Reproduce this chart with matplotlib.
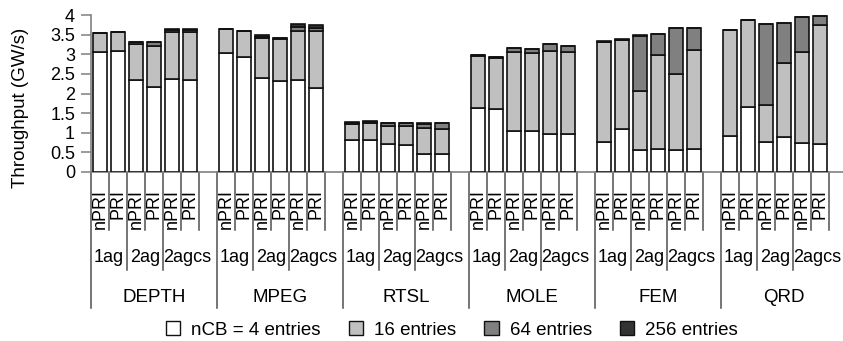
import numpy as np
import matplotlib
matplotlib.use("Agg")
import matplotlib.pyplot as plt
from matplotlib.patches import Patch

plt.rcParams['font.family'] = ['Liberation Sans', 'DejaVu Sans']

benchmarks = ["DEPTH", "MPEG", "RTSL", "MOLE", "FEM", "QRD"]
configs = ["1ag", "2ag", "2agcs"]
variants = ["nPRI", "PRI"]
series_names = ["nCB = 4 entries", "16 entries", "64 entries", "256 entries"]
series_colors = ["#ffffff", "#c0c0c0", "#808080", "#333333"]

# throughput gained at each nCB size (GW/s), six bars per benchmark:
# 1ag nPRI, 1ag PRI, 2ag nPRI, 2ag PRI, 2agcs nPRI, 2agcs PRI
cb4 = [3.07, 3.09, 2.34, 2.17, 2.36, 2.34,
       3.02, 2.93, 2.39, 2.32, 2.34, 2.15,
       0.81, 0.81, 0.71, 0.68, 0.45, 0.45,
       1.62, 1.60, 1.04, 1.04, 0.98, 0.98,
       0.76, 1.10, 0.55, 0.58, 0.55, 0.58,
       0.92, 1.65, 0.76, 0.89, 0.73, 0.71]
cb16 = [0.47, 0.48, 0.91, 1.05, 1.20, 1.22,
        0.62, 0.66, 1.03, 1.08, 1.24, 1.43,
        0.42, 0.43, 0.47, 0.49, 0.68, 0.65,
        1.34, 1.31, 2.03, 2.00, 2.11, 2.09,
        2.54, 2.26, 1.52, 2.40, 1.94, 2.54,
        2.70, 2.21, 0.94, 1.89, 2.32, 3.04]
cb64 = [0.00, 0.00, 0.05, 0.08, 0.05, 0.05,
        0.00, 0.00, 0.02, 0.01, 0.12, 0.10,
        0.02, 0.03, 0.08, 0.09, 0.09, 0.16,
        0.01, 0.01, 0.10, 0.10, 0.16, 0.15,
        0.01, 0.01, 1.39, 0.54, 1.18, 0.55,
        0.00, 0.00, 2.07, 1.02, 0.91, 0.23]
cb256 = [0.00, 0.00, 0.01, 0.02, 0.03, 0.03,
         0.01, 0.01, 0.04, 0.01, 0.07, 0.07,
         0.02, 0.02, 0.00, 0.00, 0.04, 0.00,
         0.01, 0.01, 0.00, 0.00, 0.00, 0.00,
         0.02, 0.02, 0.04, 0.00, 0.00, 0.00,
         0.00, 0.00, 0.00, 0.00, 0.00, 0.00]

W, H = 843, 341
fig = plt.figure(figsize=(W / 100, H / 100), dpi=100)
ax = fig.add_axes([91 / W, 1 - 172 / H, 756 / W, 157 / H])

# 7 slots per benchmark: 6 bars and one empty slot closing the 2agcs group
slots = 7
x = np.array([g * slots + i for g in range(len(benchmarks)) for i in range(6)])

bottom = np.zeros(len(x))
for vals, color in zip([cb4, cb16, cb64, cb256], series_colors):
    vals = np.array(vals)
    ax.bar(x, vals, width=0.74, bottom=bottom, color=color,
           edgecolor="#111111", linewidth=1.2, zorder=3)
    bottom += vals

ax.set_xlim(-0.5, len(benchmarks) * slots - 0.5)
ax.set_ylim(0, 4)
ax.set_yticks(np.arange(0, 4.01, 0.5))
ax.set_yticklabels(["0", "0.5", "1", "1.5", "2", "2.5", "3", "3.5", "4"])
ax.tick_params(axis="y", direction="out", length=7, width=1.1,
               color="#808080", labelsize=13, pad=4.5)
ax.set_xticks([])
for s in ["top", "right"]:
    ax.spines[s].set_visible(False)
ax.spines["bottom"].set_color("#808080")
ax.spines["left"].set_color("#808080")
ax.spines["bottom"].set_linewidth(1.2)
ax.spines["left"].set_linewidth(1.2)

# multi-level category axis below the plot
tr = ax.get_xaxis_transform()
px = 1 / 157.0
lvl1, lvl2, lvl3 = -58 * px, -98 * px, -136 * px
line_kw = dict(transform=tr, clip_on=False, color="#505050", linewidth=1.1)
spans = [(0, 2), (2, 4), (4, 6.7)]
for g, name in enumerate(benchmarks):
    start = g * slots - 0.5
    ax.plot([start, start], [0, lvl3], **line_kw)
    for k in (1, 3, 5, 6):
        ax.plot([start + k, start + k], [0, lvl1], **line_kw)
    for k in (2, 4):
        ax.plot([start + k, start + k], [0, lvl2], **line_kw)
    for i in range(6):
        ax.text(g * slots + i, -17 * px, variants[i % 2], transform=tr,
                rotation=90, ha="center", va="top", fontsize=13)
    for cfg, (a, b) in zip(configs, spans):
        ax.text(start + (a + b) / 2, -85 * px, cfg, transform=tr,
                ha="center", va="center", fontsize=13)
    ax.text(start + slots / 2, -125 * px, name, transform=tr,
            ha="center", va="center", fontsize=13.5)
end = len(benchmarks) * slots - 0.5
ax.plot([end, end], [0, lvl3], **line_kw)

fig.text(21 / W, 1 - 108 / H, "Throughput (GW/s)", rotation=90,
         ha="center", va="center", fontsize=13.5)

handles = [Patch(facecolor=c, edgecolor="#111111", linewidth=1.0)
           for c in series_colors]
fig.legend(handles, series_names, loc="center", ncol=4, frameon=False,
           bbox_to_anchor=(452 / W, 11 / H), fontsize=13.5,
           handlelength=0.75, handleheight=0.75, handletextpad=0.6,
           columnspacing=1.5, borderpad=0)

fig.savefig("out.png", dpi=100)
